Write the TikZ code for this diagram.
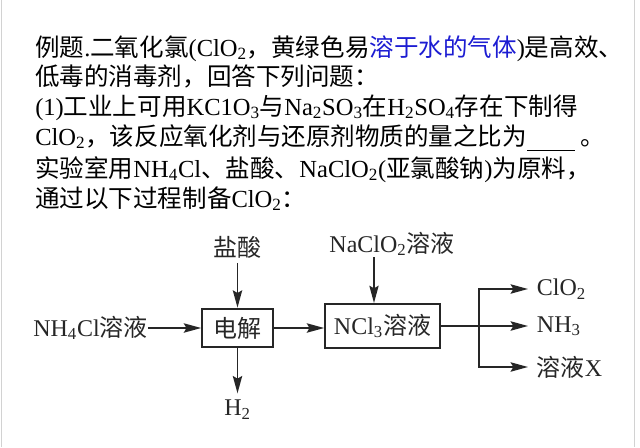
\documentclass[tikz,border=0pt]{standalone}
\usepackage{fontspec}
\setmainfont{Liberation Serif}
\newfontfamily\cjk{Noto Sans CJK SC}
\usetikzlibrary{arrows.meta}
\definecolor{qblue}{RGB}{28,28,210}
\newcommand{\zh}[1]{{\cjk #1}}

\begin{document}
\begin{tikzpicture}[x=0.75pt,y=-0.75pt,
    question/.style={anchor=base west,inner sep=0pt,font=\fontsize{18.4}{22}\selectfont},
    flow/.style={font=\fontsize{18}{21}\selectfont,text=black!85},
    box/.style={flow,draw=black!85,line width=1.5pt,inner sep=0pt},
    pipe/.style={draw=black!85,line width=1.4pt},
    arr/.style={pipe,-{Stealth[length=13pt,width=7pt,inset=2pt]}},
    product/.style={flow,anchor=west,inner xsep=6.5pt,inner ysep=0pt}]
  \useasboundingbox (0,0) rectangle (640,447);
  % Slide frame
  \draw[gray!35] (1.5,0) -- (1.5,447) (634,0) -- (634,447);

  % Question text
  \node[question] (q1) at (35,56) {\zh{例题}.\zh{二氧化氯}(ClO\textsubscript{2}\zh{，黄绿色易}\textcolor{qblue}{\zh{溶于水的气体}})\zh{是高效、}};
  \node[question] (q2) at (35,85) {\zh{低毒的消毒剂，回答下列问题：}};
  \node[question] (q3) at (35,115) {(1)\zh{工业上可用}KC1O\textsubscript{3}\zh{与}Na\textsubscript{2}SO\textsubscript{3}\zh{在}H\textsubscript{2}SO\textsubscript{4}\zh{存在下制得}};
  \node[question] (q4) at (35,145) {ClO\textsubscript{2}\zh{，该反应氧化剂与还原剂物质的量之比为}\raisebox{-4.5pt}{\rule{36pt}{1pt}}\hspace{4pt}\zh{。}};
  \node[question] (q5) at (35,177) {\zh{实验室用}NH\textsubscript{4}Cl\zh{、盐酸、}NaClO\textsubscript{2}(\zh{亚氯酸钠})\zh{为原料，}};
  \node[question] (q6) at (35,207) {\zh{通过以下过程制备}ClO\textsubscript{2}\zh{：}};

  % Process boxes
  \node[box,minimum width=53pt,minimum height=29pt] (elec) at (237.5,328) {\zh{电解}};
  \node[box,minimum width=86pt,minimum height=33pt] (ncl) at (382.5,326) {NCl\textsubscript{3}\zh{溶液}};

  % Inputs and products
  \node[flow,anchor=east,inner sep=0pt] (nh4) at (148,328) {NH\textsubscript{4}Cl\zh{溶液}};
  \node[flow] (hcl) at (237.5,247) {\zh{盐酸}};
  \node[flow,anchor=north,inner sep=0pt] (h2) at (237.5,400) {H\textsubscript{2}};
  \node[flow] (naclo) at (392,244) {NaClO\textsubscript{2}\zh{溶液}};
  \coordinate (feed) at (374,257);
  \coordinate (br) at (479,326);
  \node[product] (clo) at (528,289) {ClO\textsubscript{2}};
  \node[product] (nh3) at (528,326) {NH\textsubscript{3}};
  \node[product] (solx) at (528,367) {\zh{溶液}X};

  % Arrows
  \draw[arr] (nh4.east) -- (nh4.east -| elec.west);
  \draw[arr] (hcl.south) -- (elec.north);
  \draw[arr,shorten >=5pt] (elec.south) -- (h2.north);
  \draw[arr] (elec.east) -- (elec.east -| ncl.west);
  \draw[arr,line width=0.9pt] (feed) -- (feed |- ncl.north);
  \draw[pipe] (ncl.east) -- (br);
  \draw[arr] (br) |- (clo.west);
  \draw[arr] (br) -- (nh3.west);
  \draw[arr] (br) |- (solx.west);
\end{tikzpicture}
\end{document}
